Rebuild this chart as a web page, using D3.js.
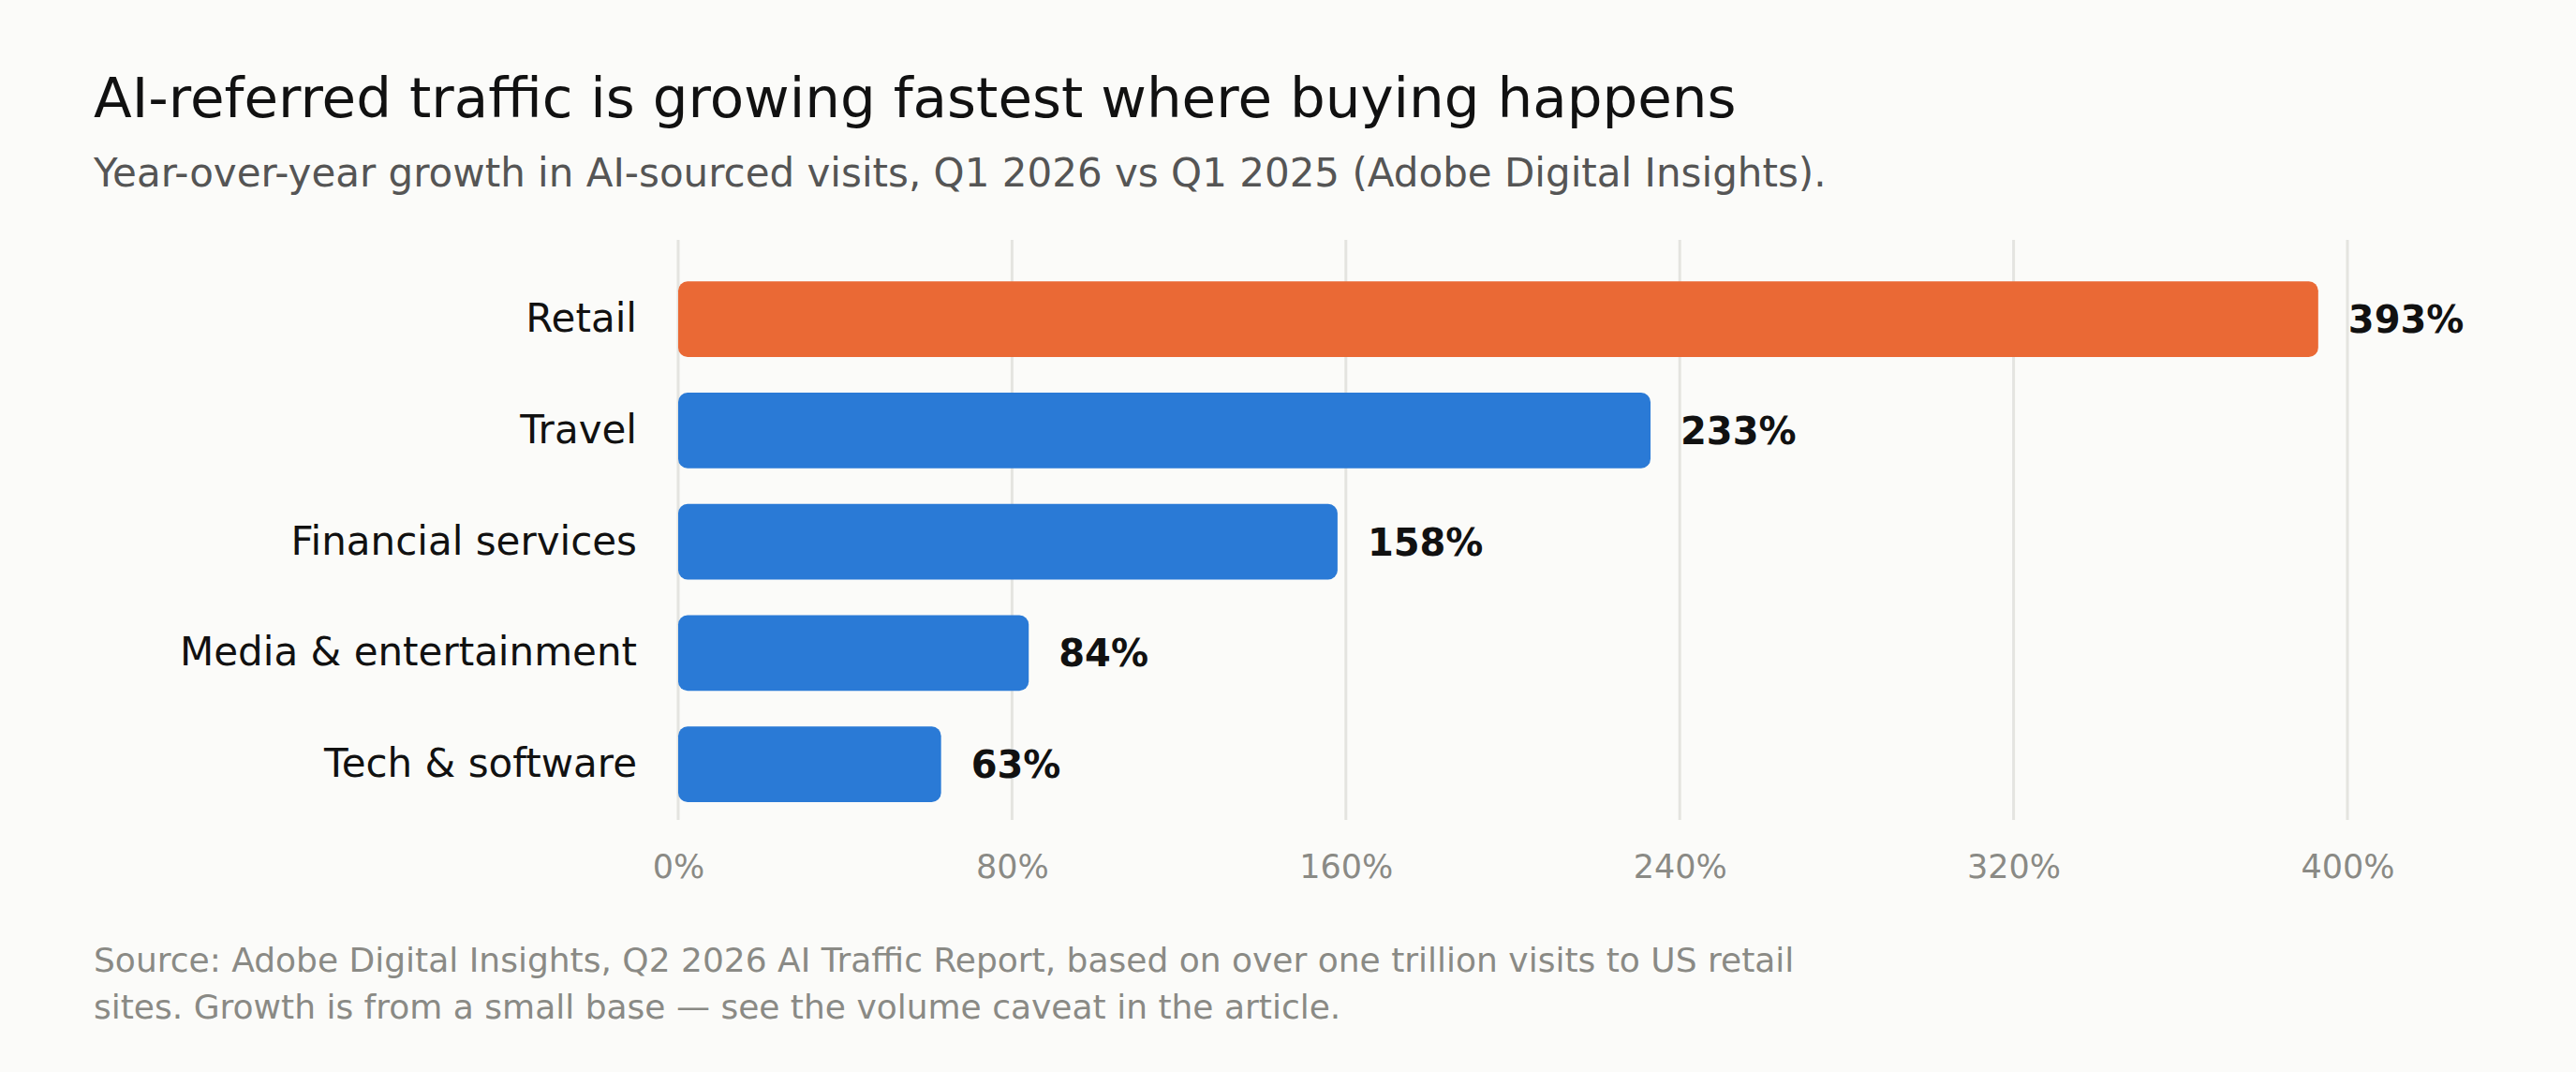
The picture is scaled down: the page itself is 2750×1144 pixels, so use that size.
<!DOCTYPE html>
<html>
<head>
    <meta charset="utf-8">
    <title>AI-referred traffic</title>
    <script src="https://d3js.org/d3.v7.min.js"></script>
    <style>
        html, body {
            margin: 0;
            padding: 0;
            background-color: #fbfbf9;
        }
        svg {
            display: block;
            font-family: "DejaVu Sans", sans-serif;
        }
    </style>
</head>
<body>
    <svg id="chart"></svg>

    <script>
        // data
        const categories = ["Retail", "Travel", "Financial services", "Media & entertainment", "Tech & software"];
        const growth = [393, 233, 158, 84, 63];
        const highlighted = ["Retail"];
        const tickValues = [0, 80, 160, 240, 320, 400];
        const footerLines = [
            "Source: Adobe Digital Insights, Q2 2026 AI Traffic Report, based on over one trillion visits to US retail",
            "sites. Growth is from a small base \u2014 see the volume caveat in the article."
        ];

        const width = 2750, height = 1144;
        const plotLeft = 724, plotRight = 2506, plotTop = 256, plotBottom = 875;

        const svg = d3.select("#chart")
            .attr("width", width)
            .attr("height", height);

        svg.append("rect")
            .attr("width", width)
            .attr("height", height)
            .attr("fill", "#fbfbf9");

        // title + subtitle
        svg.append("text")
            .attr("x", 100)
            .attr("y", 125)
            .attr("fill", "#111")
            .attr("font-size", "59.5px")
            .text("AI-referred traffic is growing fastest where buying happens");

        svg.append("text")
            .attr("x", 100)
            .attr("y", 199)
            .attr("fill", "#555")
            .attr("font-size", "42px")
            .text("Year-over-year growth in AI-sourced visits, Q1 2026 vs Q1 2025 (Adobe Digital Insights).");

        const x = d3.scaleLinear()
            .domain([0, 400])
            .range([plotLeft, plotRight]);

        const y = d3.scaleBand()
            .domain(categories)
            .range([plotTop, plotBottom])
            .paddingInner(0.32)
            .paddingOuter(0.266)
            .align(0.7);

        // vertical gridlines
        svg.append("g")
            .selectAll("line")
            .data(tickValues)
            .join("line")
            .attr("x1", d => x(d))
            .attr("x2", d => x(d))
            .attr("y1", plotTop)
            .attr("y2", plotBottom)
            .attr("stroke", "#e4e4e0")
            .attr("stroke-width", 3);

        // x axis labels
        const xAxis = d3.axisBottom(x)
            .tickValues(tickValues)
            .tickFormat(d => d + "%")
            .tickSize(0)
            .tickPadding(0);

        const xg = svg.append("g")
            .attr("transform", `translate(0, ${plotBottom})`)
            .call(xAxis);
        xg.select(".domain").remove();
        xg.selectAll("text")
            .attr("y", 62)
            .attr("dy", 0)
            .attr("fill", "#8a8a85")
            .attr("font-size", "35px")
            .attr("font-family", "DejaVu Sans, sans-serif");

        // bars
        svg.append("g")
            .selectAll("rect")
            .data(categories)
            .join("rect")
            .attr("x", x(0))
            .attr("y", d => y(d))
            .attr("width", (d, i) => x(growth[i]) - x(0))
            .attr("height", y.bandwidth())
            .attr("rx", 10)
            .attr("ry", 10)
            .attr("fill", d => highlighted.includes(d) ? "#ea6935" : "#2a7ad6");

        // category labels
        const yAxis = d3.axisLeft(y)
            .tickSize(0)
            .tickPadding(44);

        const yg = svg.append("g")
            .attr("transform", `translate(${plotLeft}, 0)`)
            .call(yAxis);
        yg.select(".domain").remove();
        yg.selectAll("text")
            .attr("fill", "#111")
            .attr("font-size", "42px")
            .attr("font-family", "DejaVu Sans, sans-serif");

        // value labels
        svg.append("g")
            .selectAll("text")
            .data(categories)
            .join("text")
            .attr("x", (d, i) => x(growth[i]) + 32)
            .attr("y", d => y(d) + y.bandwidth() / 2)
            .attr("dy", "0.36em")
            .attr("fill", "#111")
            .attr("font-size", "40px")
            .attr("font-weight", "bold")
            .text((d, i) => growth[i] + "%");

        // footer
        svg.append("g")
            .selectAll("text")
            .data(footerLines)
            .join("text")
            .attr("x", 100)
            .attr("y", (d, i) => 1037 + i * 50)
            .attr("fill", "#8a8a85")
            .attr("font-size", "36px")
            .text(d => d);
    </script>
</body>
</html>
